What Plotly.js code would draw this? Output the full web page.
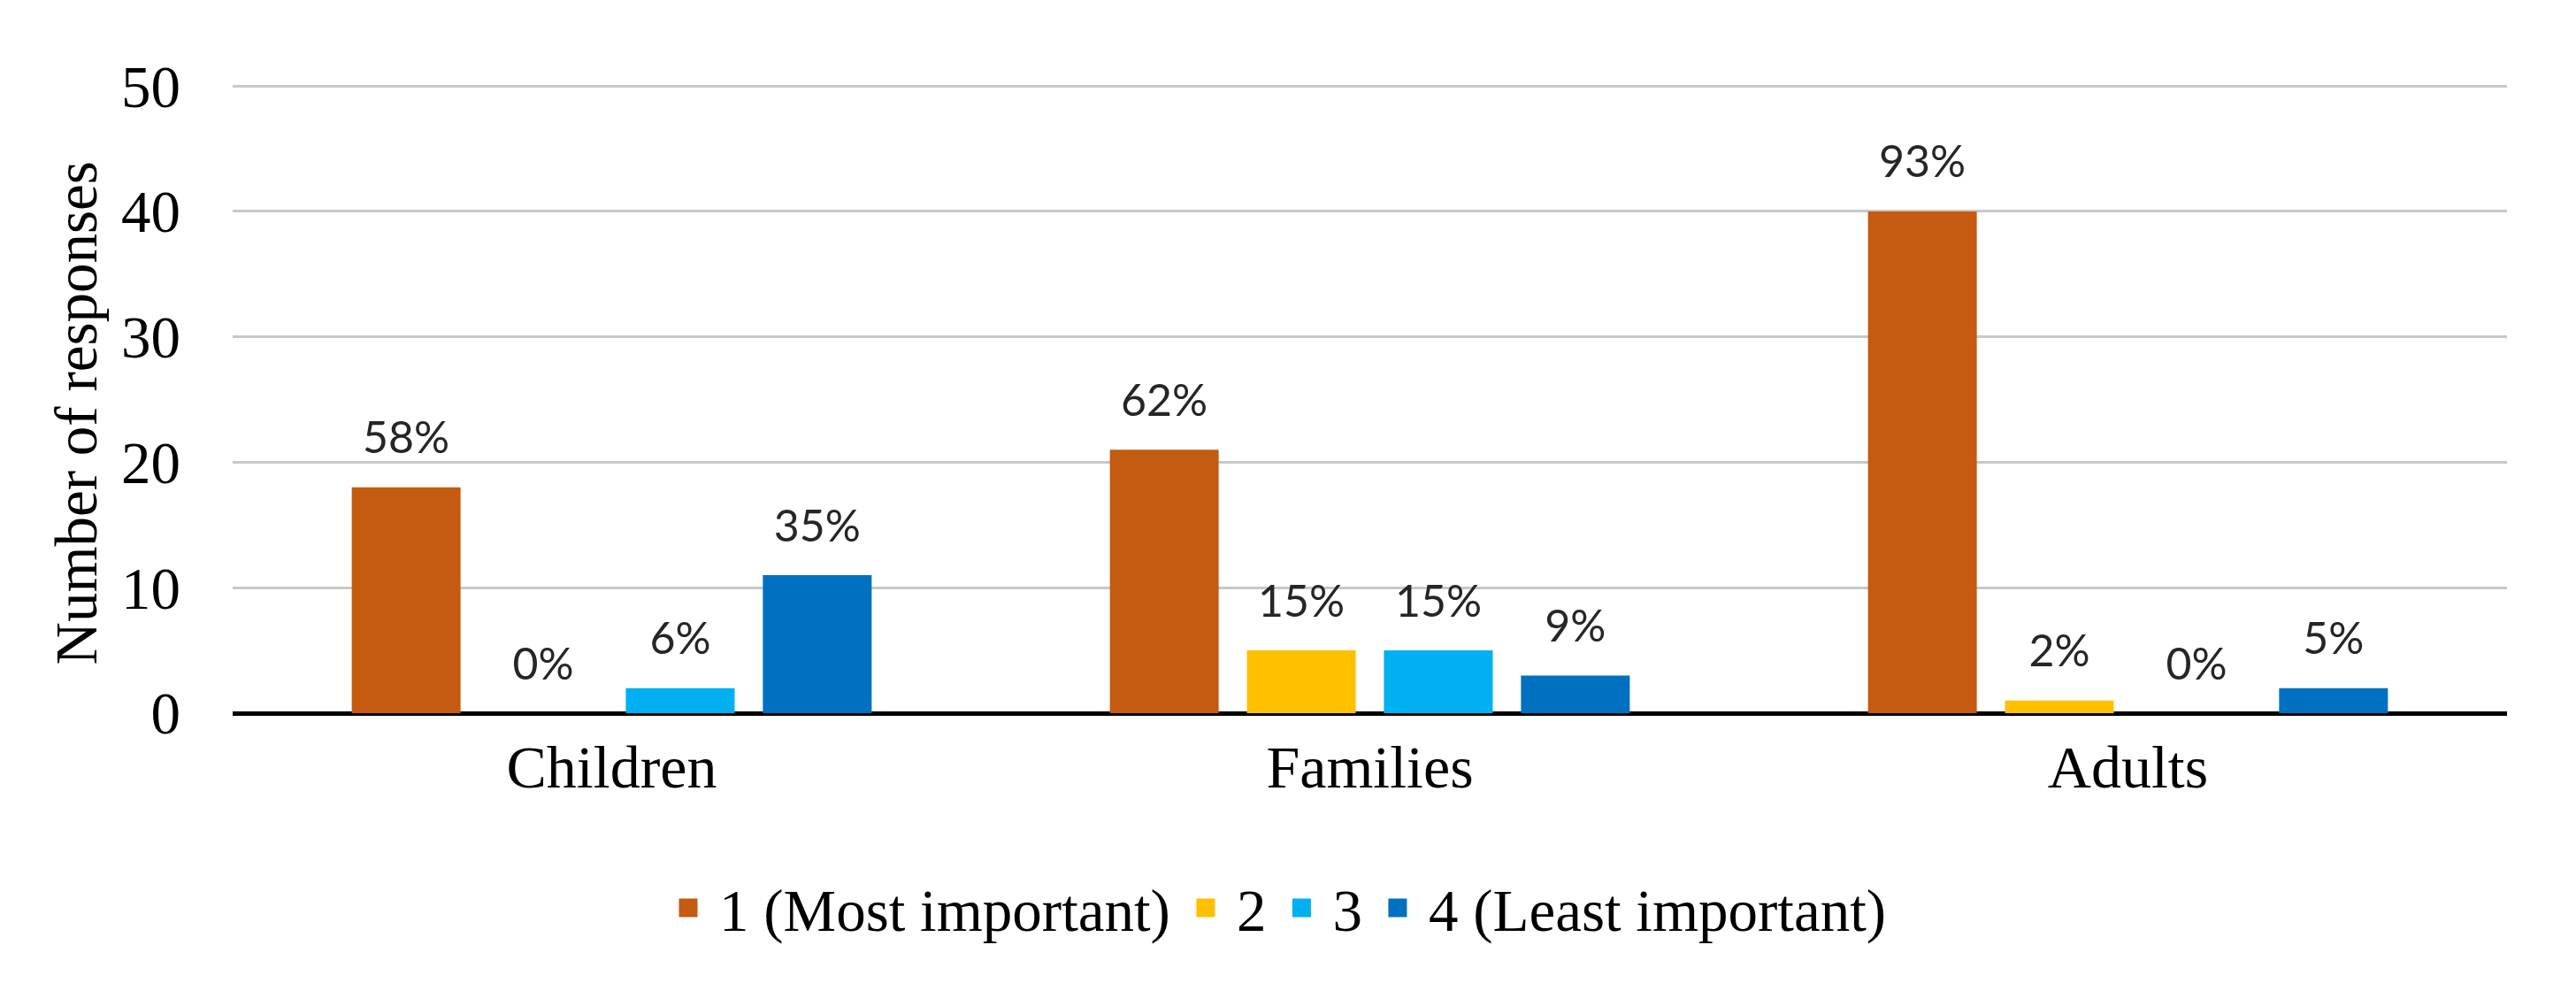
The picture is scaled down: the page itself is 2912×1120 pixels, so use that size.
<!DOCTYPE html>
<html>
<head>
<meta charset="utf-8">
<script src="https://cdn.plot.ly/plotly-3.0.1.min.js"></script>
<style>html,body{margin:0;padding:0;background:#fff;}#chart{width:2912px;height:1120px;}</style>
</head>
<body>
<div id="chart"></div>
<script>
const categories = ["Children", "Families", "Adults"];
const seriesNames = ["1 (Most important)", "2", "3", "4 (Least important)"];
const seriesColors = ["#C55A11", "#FFC000", "#00B0F0", "#0070C0"];
const rank1 = [18, 21, 40];
const rank2 = [0, 5, 1];
const rank3 = [2, 5, 0];
const rank4 = [11, 3, 2];
const pct1 = ["58%", "62%", "93%"];
const pct2 = ["0%", "15%", "2%"];
const pct3 = ["6%", "15%", "0%"];
const pct4 = ["35%", "9%", "5%"];
const yTicks = [0, 10, 20, 30, 40, 50];
const yTitle = "Number of responses";

const values = [rank1, rank2, rank3, rank4];
const pcts = [pct1, pct2, pct3, pct4];

const serif = "Liberation Serif, Times New Roman, serif";
const traces = [];
values.forEach((v, i) => {
  traces.push({
    type: "bar", x: categories, y: v, name: seriesNames[i],
    marker: {color: seriesColors[i]}, offsetgroup: "g" + i,
    legendgroup: "g" + i, showlegend: false, hoverinfo: "skip"
  });
});
values.forEach((v, i) => {
  traces.push({
    type: "scatter", mode: "markers+text", x: categories, y: v,
    text: pcts[i], textposition: "top center",
    textfont: {family: "Lato, Open Sans, sans-serif", size: 50, color: "#262626"},
    marker: {size: 40, opacity: 0}, offsetgroup: "g" + i,
    showlegend: false, hoverinfo: "skip", cliponaxis: false
  });
});
// legend entries (larger square keys than the default bar key)
seriesNames.forEach((name, i) => {
  traces.push({
    type: "scatter", mode: "markers", x: [null], y: [null], name: name,
    marker: {symbol: "square", size: 16, color: seriesColors[i],
             line: {color: seriesColors[i], width: 5}},
    offsetgroup: "g" + i, legendgroup: "g" + i, showlegend: true, hoverinfo: "skip"
  });
});

const layout = {
  width: 2912, height: 1120,
  margin: {l: 263, r: 78, t: 95, b: 314},
  paper_bgcolor: "#ffffff", plot_bgcolor: "#ffffff",
  barmode: "group", bargap: 0.277, bargroupgap: 0.206,
  scattermode: "group", scattergap: 0.277,
  font: {family: serif, color: "#000000", size: 67},
  showlegend: true,
  legend: {orientation: "h", x: 0.458, xanchor: "center", y: -0.31, yanchor: "middle",
           itemwidth: 60,
           font: {family: serif, size: 67, color: "#000000"}, traceorder: "normal"},
  xaxis: {type: "category", showgrid: false, showline: false, ticks: "",
          tickfont: {family: serif, size: 68, color: "#000000"}, ticklabelstandoff: 15},
  yaxis: {range: [0, 50.15], tickvals: yTicks, showgrid: true, gridcolor: "#C8C8C8", gridwidth: 3,
          zeroline: true, zerolinecolor: "#000000", zerolinewidth: 5,
          showline: false, ticks: "", automargin: false,
          tickfont: {family: serif, size: 67, color: "#000000"}, ticklabelstandoff: 58},
  annotations: [{
    text: yTitle, xref: "paper", yref: "paper", x: -0.069, y: 0.477,
    xanchor: "center", yanchor: "middle", textangle: -90, showarrow: false,
    font: {family: serif, size: 67, color: "#000000"}
  }]
};

Plotly.newPlot("chart", traces, layout, {displayModeBar: false, staticPlot: true});
</script>
</body>
</html>
